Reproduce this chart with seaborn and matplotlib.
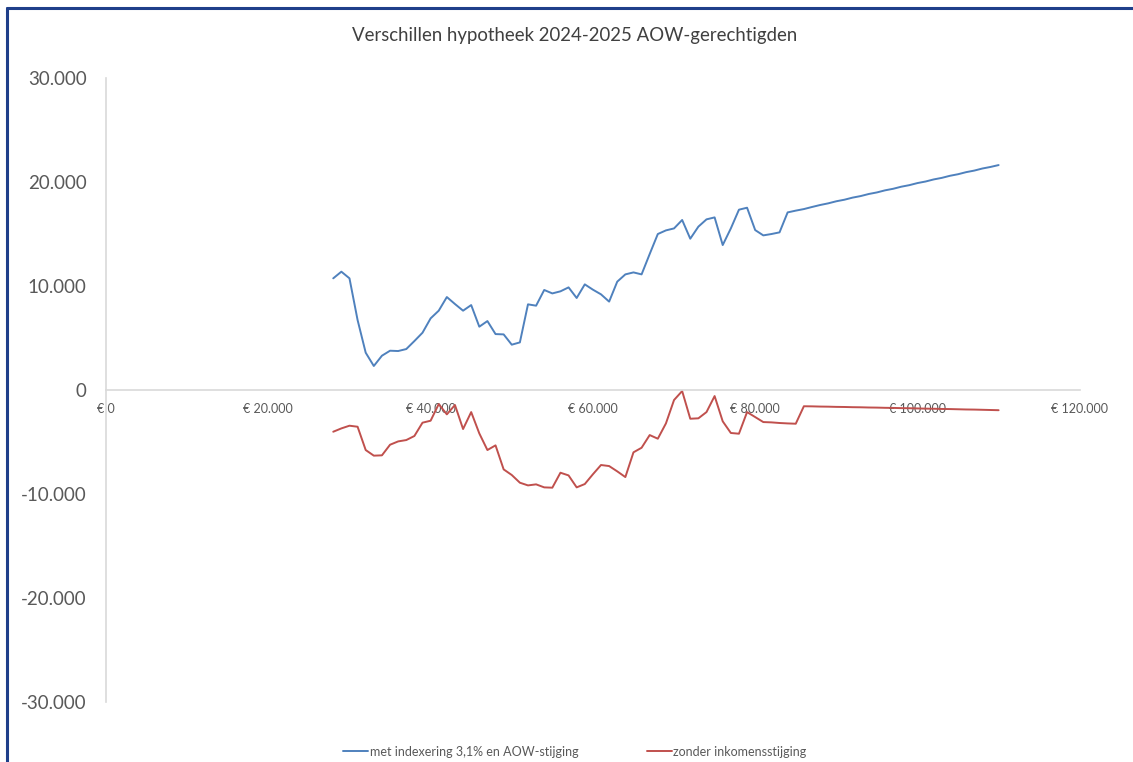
import pandas as pd
import matplotlib
matplotlib.use("Agg")
import matplotlib.pyplot as plt
import seaborn as sns
from matplotlib.ticker import FuncFormatter, MultipleLocator
from matplotlib.lines import Line2D

### Excel-style line chart: differences in mortgage 2024-2025 for AOW recipients

inkomen = list(range(28000, 111000, 1000))

met_indexering = [
    10740, 11380, 10740, 6730, 3590, 2310, 3300, 3780, 3750, 3940,
    4710, 5510, 6890, 7630, 8940, 8270, 7630, 8170, 6090, 6630,
    5380, 5350, 4360, 4580, 8240, 8110, 9620, 9290, 9490, 9870,
    8850, 10160, 9650, 9200, 8500, 10420, 11120, 11310, 11120, 13080,
    15000, 15350, 15540, 16350, 14550, 15710, 16410, 16600, 13940, 15540,
    17340, 17530, 15380, 14870, 15000, 15160, 17080, 17250, 17400, 17600,
    17790, 17950, 18150, 18300, 18500, 18650, 18850, 19000, 19200, 19350,
    19550, 19700, 19900, 20050, 20250, 20400, 20600, 20750, 20950, 21100,
    21300, 21450, 21630,
]

zonder_stijging = [
    -4010, -3690, -3430, -3530, -5770, -6310, -6280, -5260, -4940, -4810,
    -4420, -3140, -2950, -1350, -2340, -1440, -3750, -2120, -4170, -5770,
    -5320, -7630, -8170, -8910, -9170, -9070, -9360, -9390, -7950, -8210,
    -9360, -9040, -8100, -7210, -7310, -7820, -8370, -5990, -5550, -4330,
    -4680, -3210, -960, -100, -2760, -2720, -2120, -580, -3010, -4130,
    -4200, -2120, -2600, -3080, -3110, -3170, -3210, -3240, -1560, -1570,
    -1590, -1600, -1620, -1630, -1650, -1660, -1680, -1690, -1710, -1720,
    -1740, -1750, -1770, -1790, -1800, -1820, -1830, -1850, -1870, -1880,
    -1900, -1920, -1940,
]

label_blue = "met indexering 3,1% en AOW-stijging"
label_red = "zonder inkomensstijging"

df = pd.DataFrame({"inkomen": inkomen, label_blue: met_indexering, label_red: zonder_stijging})
long_df = df.melt(id_vars="inkomen", var_name="serie", value_name="verschil")

sns.set_theme(style="white")
plt.rcParams["font.family"] = ["Lato", "DejaVu Sans"]

grey = "#595959"
my_palette = {label_blue: "#4F81BD", label_red: "#C0504D"}

fig = plt.figure(figsize=(11.33, 7.62), dpi=100)
ax = fig.add_axes([0.0936, 0.0787, 0.8594, 0.8189])

sns.lineplot(data=long_df, x="inkomen", y="verschil", hue="serie", palette=my_palette,
             linewidth=1.4, ax=ax)

ax.set_xlim(0, 120000)
ax.set_ylim(-30000, 30000)
ax.xaxis.set_major_locator(MultipleLocator(20000))
ax.yaxis.set_major_locator(MultipleLocator(10000))

def dots(v):
    return f"{v:,.0f}".replace(",", ".")

ax.yaxis.set_major_formatter(FuncFormatter(lambda v, p: dots(v)))
ax.xaxis.set_major_formatter(FuncFormatter(lambda v, p: "€ " + dots(v)))

for s in ["top", "right"]:
    ax.spines[s].set_visible(False)
ax.spines["bottom"].set_position(("data", 0))
ax.spines["bottom"].set_color("#D9D9D9")
ax.spines["left"].set_color("#D9D9D9")
ax.spines["bottom"].set_linewidth(1.2)
ax.spines["left"].set_linewidth(1.2)

ax.tick_params(axis="y", length=0, labelsize=13.5, labelcolor=grey, pad=14)
ax.tick_params(axis="x", length=0, labelsize=9, labelcolor=grey, pad=9)
ax.set_xlabel(None)
ax.set_ylabel(None)

ax.set_title("Verschillen hypotheek 2024-2025 AOW-gerechtigden", fontsize=13.4, color="#404040",
             x=0.4815, y=1.0, pad=27)

ax.legend(loc="lower center", bbox_to_anchor=(0.4815, -0.107), ncol=2, frameon=False,
          fontsize=9, handlelength=2.0, handletextpad=0.1, columnspacing=5.5,
          labelcolor=grey)

# dark blue frame around the chart (left and top visible)
border = "#1F3F8A"
fig.add_artist(Line2D([0.0062, 0.0062], [0.0, 0.989], color=border, lw=2.2, transform=fig.transFigure))
fig.add_artist(Line2D([0.0062, 1.0], [0.989, 0.989], color=border, lw=2.2, transform=fig.transFigure))

plt.savefig("out.png", dpi=100)
